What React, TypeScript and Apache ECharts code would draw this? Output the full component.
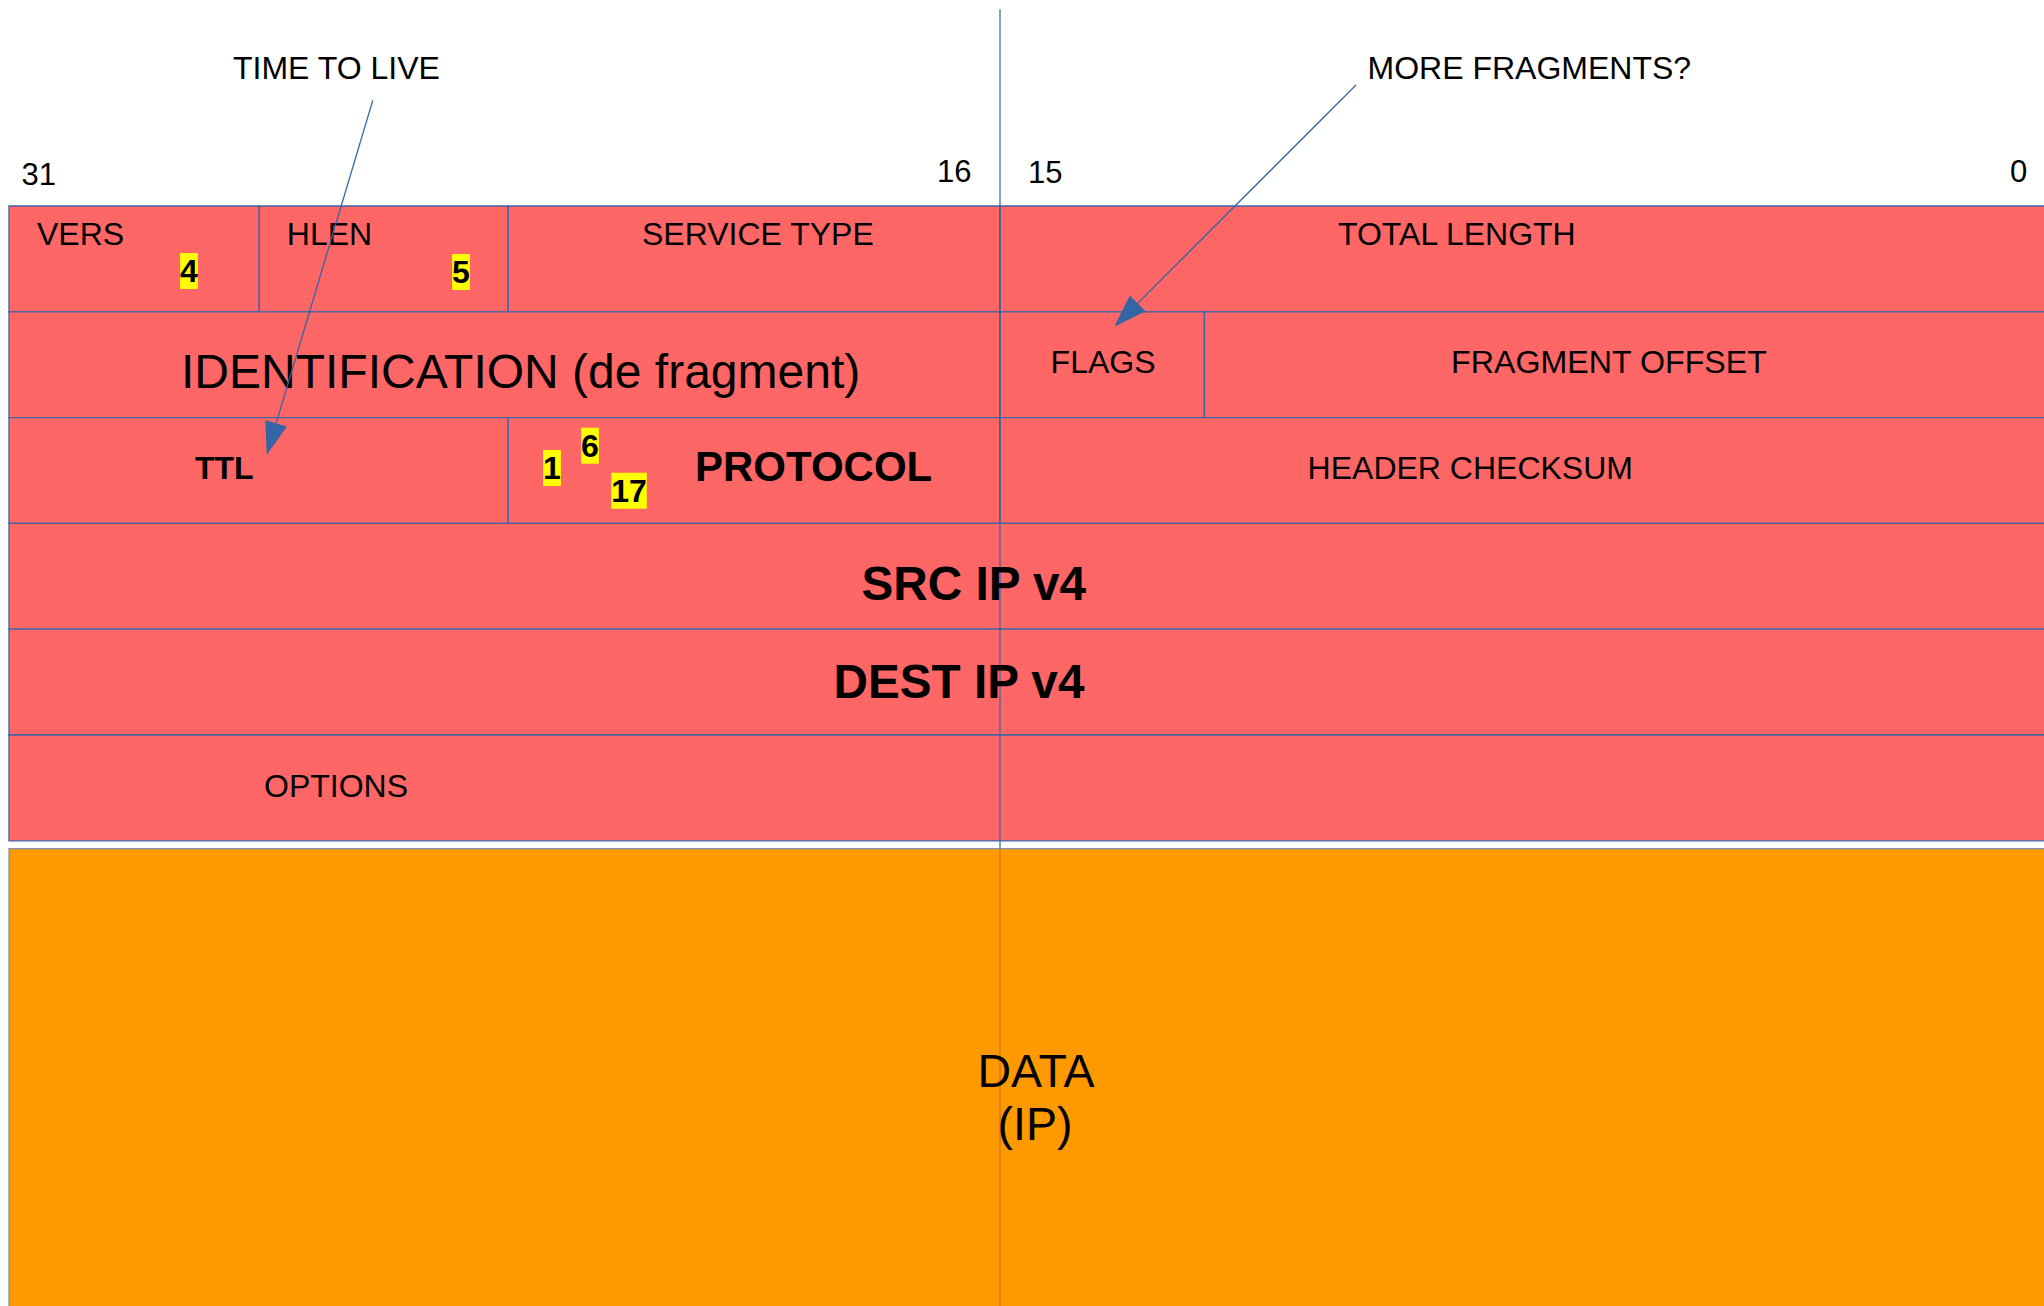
import React, { useEffect, useRef } from "react";
import * as echarts from "echarts";

const W = 2044;
const H = 1306;
const FONT = "'Liberation Sans', Arial, sans-serif";

// Bit axis (32 on the left, 0 on the right) and row axis (header rows, top to bottom)
const BIT_MIN = -0.855;
const BIT_MAX = 32.145;
const ROW_MIN = -1.947;
const ROW_MAX = 10.397;

// Header fields: name, first bit edge, last bit edge, row
const FIELD_NAMES = [
  "VERS", "HLEN", "SERVICE TYPE", "TOTAL LENGTH",
  "IDENTIFICATION (de fragment)", "FLAGS", "FRAGMENT OFFSET",
  "TTL", "PROTOCOL", "HEADER CHECKSUM",
  "SRC IP v4", "DEST IP v4", "OPTIONS",
];
const FIELD_BIT_FROM = [32, 27.96, 23.94, 16, 32, 16, 12.7, 32, 23.94, 16, 32, 32, 32];
const FIELD_BIT_TO = [27.96, 23.94, 16, -1.5, 16, 12.7, -1.5, 23.94, 16, -1.5, -1.5, -1.5, -1.5];
const FIELD_ROW = [0, 0, 0, 0, 1, 1, 1, 2, 2, 2, 3, 4, 5];

// Payload block
const PAYLOAD_LINES = ["DATA", "(IP)"];
const PAYLOAD_BIT_FROM = 32;
const PAYLOAD_BIT_TO = -1.5;
const PAYLOAD_ROW_FROM = 6.074;
const PAYLOAD_ROW_TO = 11;

// Bit numbers, example values, annotations
const BIT_TICKS = ["31", "16", "15", "0"];
const VERS_VALUE = "4";
const HLEN_VALUE = "5";
const PROTOCOL_CODES = ["1", "6", "17"];
const ANNOTATIONS = ["TIME TO LIVE", "MORE FRAGMENTS?"];

const RED = "#ff6666";
const ORANGE = "#ff9900";
const BLUE = "#3465a4";

export default function App() {
  const ref = useRef<HTMLDivElement>(null);

  useEffect(() => {
    if (!ref.current) return;
    document.body.style.margin = "0";
    document.body.style.overflow = "hidden";
    document.documentElement.style.overflow = "hidden";
    const chart = echarts.init(ref.current, undefined, { renderer: "svg" });

    const cells: any[] = FIELD_NAMES.map((n, i) => ({
      name: n,
      value: [FIELD_BIT_FROM[i], FIELD_BIT_TO[i], FIELD_ROW[i], FIELD_ROW[i] + 1, 0],
    }));
    cells.push({
      name: PAYLOAD_LINES.join(" "),
      value: [PAYLOAD_BIT_FROM, PAYLOAD_BIT_TO, PAYLOAD_ROW_FROM, PAYLOAD_ROW_TO, 1],
    });

    const renderItem = (params: any, api: any) => {
      const p0 = api.coord([api.value(0), api.value(2)]);
      const p1 = api.coord([api.value(1), api.value(3)]);
      const kind = api.value(4);
      return {
        type: "rect",
        shape: { x: p0[0], y: p0[1], width: p1[0] - p0[0], height: p1[1] - p0[1] },
        style: {
          fill: kind === 1 ? ORANGE : RED,
          stroke: kind === 1 ? "#8193b2" : "#4064a6",
          lineWidth: 1.3,
        },
      };
    };

    const txt = (
      text: string,
      x: number,
      y: number,
      size: number,
      weight: string = "normal",
      align: string = "left",
      extra: any = {}
    ) => ({
      type: "text",
      z: 20,
      silent: true,
      style: {
        text,
        x,
        y,
        fill: "#000",
        fontSize: size,
        fontFamily: FONT,
        fontWeight: weight,
        align,
        verticalAlign: "middle",
        textAlign: align,
        textVerticalAlign: "middle",
        ...extra,
      },
    });

    // label layout (pixel positions of each field label)
    const fieldLayout: [number, number, number, string][] = [
      [37, 234, 32, "normal"],
      [286.8, 234, 32, "normal"],
      [642, 234, 32, "normal"],
      [1338, 234, 32, "normal"],
      [181, 371.5, 48, "normal"],
      [1050.6, 362, 32, "normal"],
      [1451, 362, 32.2, "normal"],
      [195, 468.3, 32, "bold"],
      [695, 466.7, 42, "bold"],
      [1307.6, 468, 32, "normal"],
      [861.5, 583.5, 47.7, "bold"],
      [833.5, 681.5, 47.7, "bold"],
      [264, 786, 32, "normal"],
    ];
    const tickLayout: [number, number][] = [
      [21.5, 174],
      [937, 171],
      [1028, 172],
      [2010, 171],
    ];
    const annotationLayout: [number, number][] = [
      [233, 68],
      [1367.5, 68],
    ];
    const highlightValues = [VERS_VALUE, HLEN_VALUE, ...PROTOCOL_CODES];
    const highlightLayout: [number, number][] = [
      [189, 271],
      [461, 272],
      [552, 468],
      [590, 445.7],
      [629, 490.7],
    ];
    const arrows: [[number, number], [number, number]][] = [
      [[372.8, 100.4], [266.7, 455]],
      [[1356, 85], [1114.3, 326.7]],
    ];

    const elements: any[] = [];

    // center divider line
    elements.push({
      type: "line",
      z: 10,
      silent: true,
      shape: { x1: 1000, y1: 9.3, x2: 1000, y2: 848 },
      style: { stroke: BLUE, lineWidth: 1.2 },
    });
    elements.push({
      type: "line",
      z: 10,
      silent: true,
      shape: { x1: 1000, y1: 848, x2: 1000, y2: H },
      style: { stroke: "#b0700f", lineWidth: 1 },
    });

    FIELD_NAMES.forEach((n, i) => {
      const [x, y, s, w] = fieldLayout[i];
      elements.push(txt(n, x, y, s, w));
    });
    BIT_TICKS.forEach((t, i) => {
      const [x, y] = tickLayout[i];
      elements.push(txt(t, x, y, 31));
    });
    ANNOTATIONS.forEach((t, i) => {
      const [x, y] = annotationLayout[i];
      elements.push(txt(t, x, y, 32));
    });
    highlightValues.forEach((t, i) => {
      const [x, y] = highlightLayout[i];
      elements.push(
        txt(t, x, y, 32, "bold", "center", {
          backgroundColor: "#ffff00",
          lineHeight: 36,
          padding: [0, 0, 0, 0],
        })
      );
    });
    elements.push(txt(PAYLOAD_LINES[0], 1036, 1071, 46.5, "normal", "center"));
    elements.push(txt(PAYLOAD_LINES[1], 1035, 1124, 46.5, "normal", "center"));

    arrows.forEach(([a, b]) => {
      const dx = b[0] - a[0];
      const dy = b[1] - a[1];
      const len = Math.sqrt(dx * dx + dy * dy);
      const ux = dx / len;
      const uy = dy / len;
      const headLen = 33;
      const half = 11.2;
      const bx = b[0] - ux * headLen;
      const by = b[1] - uy * headLen;
      elements.push({
        type: "line",
        z: 30,
        silent: true,
        shape: { x1: a[0], y1: a[1], x2: bx, y2: by },
        style: { stroke: BLUE, lineWidth: 1.3 },
      });
      elements.push({
        type: "polygon",
        z: 30,
        silent: true,
        shape: {
          points: [
            [b[0], b[1]],
            [bx - uy * half, by + ux * half],
            [bx + uy * half, by - ux * half],
          ],
        },
        style: { fill: BLUE },
      });
    });

    chart.setOption({
      animation: false,
      grid: { left: 0, right: 0, top: 0, bottom: 0, containLabel: false },
      xAxis: { type: "value", min: BIT_MIN, max: BIT_MAX, inverse: true, show: false },
      yAxis: { type: "value", min: ROW_MIN, max: ROW_MAX, inverse: true, show: false },
      tooltip: { show: false },
      series: [
        {
          type: "custom",
          renderItem,
          data: cells,
          silent: true,
          z: 2,
        },
      ],
      graphic: { elements },
    });

    return () => chart.dispose();
  }, []);

  return <div ref={ref} style={{ width: W, height: H, background: "#fff" }} />;
}
